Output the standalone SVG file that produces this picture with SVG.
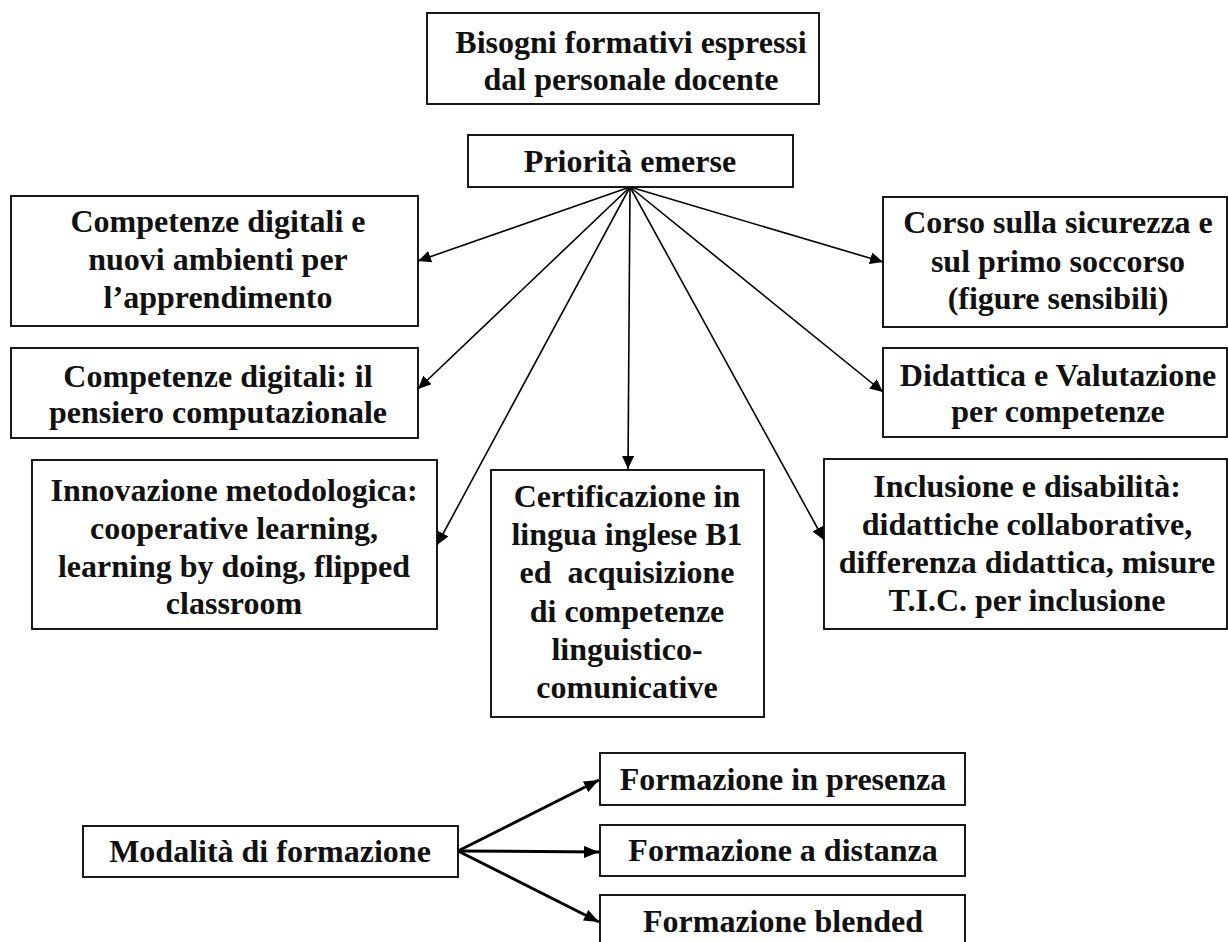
<svg xmlns="http://www.w3.org/2000/svg" width="1228" height="942" viewBox="0 0 1228 942">
<style>
.box{fill:#fff;stroke:#000;stroke-width:1.8}
.t{font-family:"Liberation Serif","Times New Roman",serif;font-weight:bold;font-size:32px;fill:#111;text-anchor:middle}
.c{fill:none;stroke:#000;stroke-width:1.6}
.c2{fill:none;stroke:#000;stroke-width:3}
</style>
<defs>
<marker id="ah" markerUnits="userSpaceOnUse" markerWidth="14" markerHeight="12" refX="13" refY="6" orient="auto"><path d="M0,0 L13,6 L0,12 Z" fill="#000"/></marker>
<marker id="ah2" markerUnits="userSpaceOnUse" markerWidth="16" markerHeight="12" refX="15" refY="6" orient="auto"><path d="M0,0 L15,6 L0,12 Z" fill="#000"/></marker>
</defs>
<rect width="1228" height="942" fill="#fff"/>
<g id="connectors">
<line class="c" x1="630" y1="187" x2="418" y2="261" marker-end="url(#ah)"/>
<line class="c" x1="630" y1="187" x2="418" y2="389" marker-end="url(#ah)"/>
<line class="c" x1="630" y1="187" x2="437" y2="545" marker-end="url(#ah)"/>
<line class="c" x1="630" y1="187" x2="628" y2="469" marker-end="url(#ah)"/>
<line class="c" x1="630" y1="187" x2="824" y2="540" marker-end="url(#ah)"/>
<line class="c" x1="630" y1="187" x2="883" y2="392" marker-end="url(#ah)"/>
<line class="c" x1="630" y1="187" x2="883" y2="262" marker-end="url(#ah)"/>
<line class="c2" x1="458" y1="851" x2="599" y2="780" marker-end="url(#ah2)"/>
<line class="c2" x1="458" y1="851" x2="599" y2="852" marker-end="url(#ah2)"/>
<line class="c2" x1="458" y1="851" x2="599" y2="922" marker-end="url(#ah2)"/>
</g>
<g id="bisogni">
<rect class="box" x="427" y="13" width="392" height="91"/>
<text class="t" x="631" y="53">Bisogni formativi espressi</text>
<text class="t" x="631" y="90">dal personale docente</text>
</g>
<g id="priorita">
<rect class="box" x="468" y="135" width="325" height="52"/>
<text class="t" x="630" y="172">Priorità emerse</text>
</g>
<g id="comp-digitali-ambienti">
<rect class="box" x="11" y="196" width="407" height="130"/>
<text class="t" x="218" y="232">Competenze digitali e</text>
<text class="t" x="218" y="270">nuovi ambienti per</text>
<text class="t" x="218" y="308">l’apprendimento</text>
</g>
<g id="comp-digitali-pensiero">
<rect class="box" x="11" y="348" width="407" height="90"/>
<text class="t" x="218" y="387">Competenze digitali: il</text>
<text class="t" x="218" y="423">pensiero computazionale</text>
</g>
<g id="innovazione">
<rect class="box" x="32" y="460" width="405" height="169"/>
<text class="t" x="234" y="501">Innovazione metodologica:</text>
<text class="t" x="234" y="539">cooperative learning,</text>
<text class="t" x="234" y="577">learning by doing, flipped</text>
<text class="t" x="234" y="614">classroom</text>
</g>
<g id="certificazione">
<rect class="box" x="491" y="470" width="273" height="247"/>
<text class="t" x="627" y="507">Certificazione in</text>
<text class="t" x="627" y="545">lingua inglese B1</text>
<text class="t" x="627" y="583" xml:space="preserve">ed  acquisizione</text>
<text class="t" x="627" y="622">di competenze</text>
<text class="t" x="627" y="660">linguistico-</text>
<text class="t" x="627" y="698">comunicative</text>
</g>
<g id="corso">
<rect class="box" x="883" y="197" width="344" height="130"/>
<text class="t" x="1058" y="233">Corso sulla sicurezza e</text>
<text class="t" x="1058" y="272">sul primo soccorso</text>
<text class="t" x="1058" y="309">(figure sensibili)</text>
</g>
<g id="didattica">
<rect class="box" x="883" y="348" width="344" height="89"/>
<text class="t" x="1058" y="386">Didattica e Valutazione</text>
<text class="t" x="1058" y="422">per competenze</text>
</g>
<g id="inclusione">
<rect class="box" x="824" y="459" width="403" height="170"/>
<text class="t" x="1027" y="497">Inclusione e disabilità:</text>
<text class="t" x="1027" y="535">didattiche collaborative,</text>
<text class="t" x="1027" y="573">differenza didattica, misure</text>
<text class="t" x="1027" y="611">T.I.C. per inclusione</text>
</g>
<g id="modalita">
<rect class="box" x="83" y="826" width="375" height="51"/>
<text class="t" x="270" y="862">Modalità di formazione</text>
</g>
<g id="presenza">
<rect class="box" x="600" y="753" width="365" height="52"/>
<text class="t" x="783" y="790">Formazione in presenza</text>
</g>
<g id="distanza">
<rect class="box" x="600" y="825" width="365" height="51"/>
<text class="t" x="783" y="861">Formazione a distanza</text>
</g>
<g id="blended">
<rect class="box" x="600" y="895" width="365" height="60"/>
<text class="t" x="783" y="932">Formazione blended</text>
</g>
</svg>
